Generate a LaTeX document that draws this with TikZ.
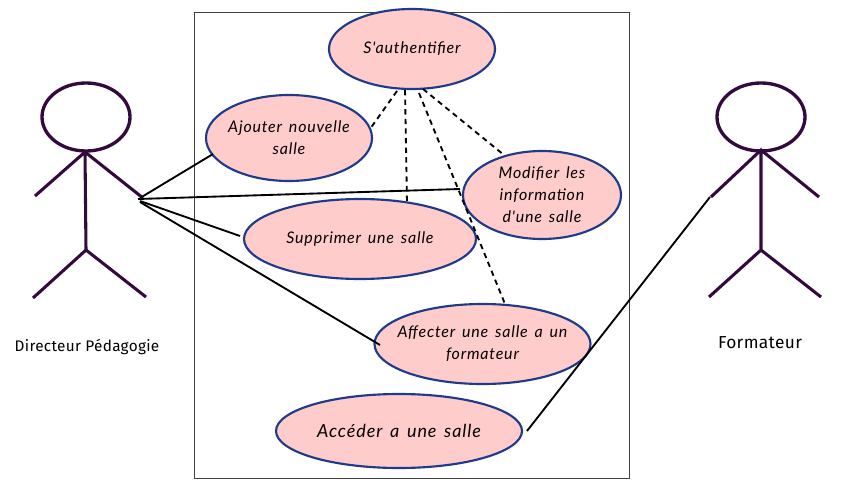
\documentclass[tikz,border=0pt]{standalone}
\usepackage{fontspec}
\setmainfont[LetterSpace=2]{Fira Sans}
\newfontfamily\casefont[ItalicFont={Lato Italic},ItalicFeatures={LetterSpace=5,WordSpace=1.5}]{Lato}
\usetikzlibrary{shapes.geometric}
\definecolor{ucfill}{HTML}{FFCCCC}
\definecolor{ucline}{HTML}{1F3A8A}
\definecolor{actorline}{HTML}{330A3D}
\tikzset{
  usecase/.style={ellipse,draw=ucline,fill=ucfill,line width=1.6pt,inner sep=0pt,
    label={[casetext]center:{#1}}},
  casetext/.style={align=center,inner sep=0pt,font=\fontsize{12pt}{16.5pt}\selectfont\casefont\itshape},
  casebig/.style={casetext,font=\fontsize{13.5pt}{16pt}\selectfont\casefont\itshape},
  frame/.style={draw=black!75,line width=0.7pt},
  head/.style={ellipse,draw=actorline,line width=2.5pt,inner sep=0pt,minimum width=66pt,minimum height=51pt},
  limb/.style={draw=actorline,line width=2.3pt},
  assoc/.style={draw=black,line width=1.4pt},
  incl/.style={draw=black,line width=1.4pt,dash pattern=on 4pt off 3.2pt},
  actorname/.style={font=\fontsize{11.5pt}{13pt}\selectfont}
}
\begin{document}
\begin{tikzpicture}[x=0.75pt,y=-0.75pt]
\useasboundingbox (0,0) rectangle (853,496);
\fill[white] (0,0) rectangle (853,496);
\node[frame,minimum width=326.25pt,minimum height=349.5pt,inner sep=0pt] (sys) at (411.5,245) {};

\node[usecase={S'authentifier},minimum width=124.5pt,minimum height=60pt] (auth) at (412,49) {};
\node[usecase={Ajouter nouvelle\\salle},minimum width=124.5pt,minimum height=64.5pt] (add) at (289,138) {};
\node[usecase={Modifier les\\information\\d'une salle},minimum width=118.5pt,minimum height=66pt] (mod) at (542,195) {};
\node[usecase={Supprimer une salle},minimum width=174pt,minimum height=60pt] (del) at (360,239) {};
\node[usecase={Affecter une salle a un\\formateur},minimum width=162pt,minimum height=60pt] (aff) at (482.5,344) {};
\node[ellipse,draw=ucline,fill=ucfill,line width=1.6pt,inner sep=0pt,label={[casebig]center:{Accéder a une salle}},minimum width=184.5pt,minimum height=55.5pt] (acc) at (399,431) {};

% left actor
\node[head] (h1) at (86,117) {};
\coordinate (n1) at (85,152); \coordinate (w1) at (86,250);
\coordinate (la1) at (35,196); \coordinate (ra1) at (143,198);
\coordinate (ll1) at (33,298); \coordinate (rl1) at (146,297);
\draw[limb] (n1) -- (w1) (la1) -- (n1) -- (ra1) (ll1) -- (w1) -- (rl1);
\node[actorname] (name1) at (87,347) {Directeur Pédagogie};

% right actor
\node[head] (h2) at (761,117) {};
\coordinate (n2) at (761,150); \coordinate (w2) at (761,250);
\coordinate (la2) at (711,197); \coordinate (ra2) at (819,197);
\coordinate (ll2) at (709,297); \coordinate (rl2) at (821,297);
\draw[limb] (n2) -- (w2) (la2) -- (n2) -- (ra2) (ll2) -- (w2) -- (rl2);
\node[actorname,font=\fontsize{13pt}{14pt}\selectfont\fontseries{m}\selectfont] (name2) at (760,343) {Formateur};

% association end points
\coordinate (s1) at (140,198); \coordinate (s2) at (138,199);
\coordinate (s3) at (140,201); \coordinate (s4) at (140,202);
\coordinate (t1) at (213,154); \coordinate (t2) at (460,189);
\coordinate (t3) at (240,236); \coordinate (t4) at (380,345);
\coordinate (s5) at (710,197); \coordinate (t5) at (527,431);
\draw[assoc] (s1) -- (t1);
\draw[assoc] (s2) -- (t2);
\draw[assoc] (s3) -- (t3);
\draw[assoc] (s4) -- (t4);
\draw[assoc] (s5) -- (t5);

% dashed links
\coordinate (a1) at (397,91); \coordinate (b1) at (370,129);
\coordinate (a2) at (405,90); \coordinate (b2) at (407,202);
\coordinate (a3) at (419,93); \coordinate (b3) at (505,304);
\coordinate (a4) at (423,89); \coordinate (b4) at (504,155);
\draw[incl] (a1) -- (b1);
\draw[incl] (a2) -- (b2);
\draw[incl] (a3) -- (b3);
\draw[incl] (a4) -- (b4);
\end{tikzpicture}
\end{document}
